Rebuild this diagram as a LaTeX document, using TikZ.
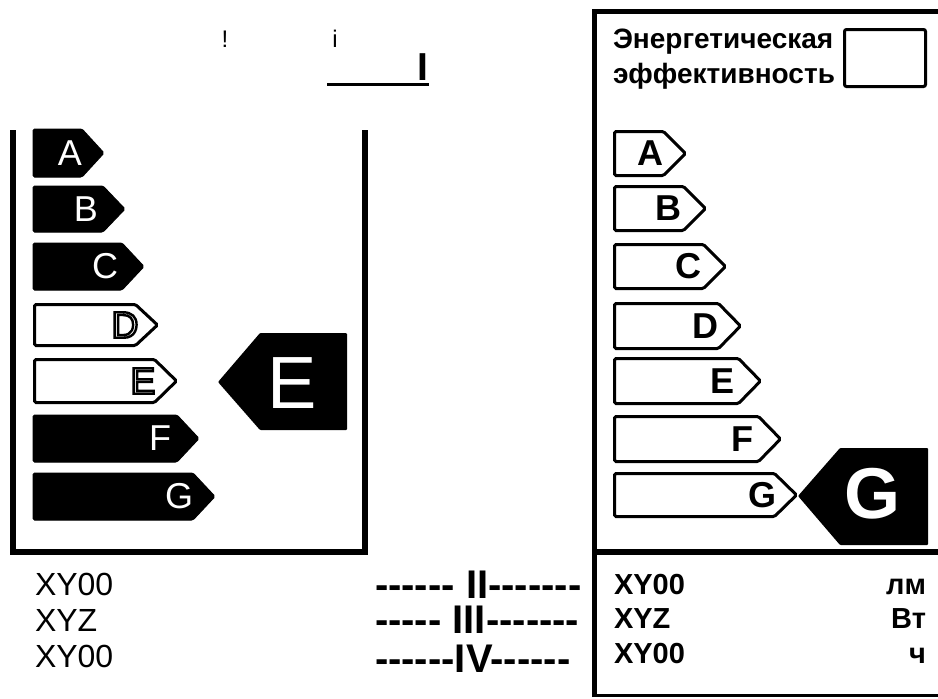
\documentclass[tikz,border=0pt]{standalone}
\usepackage{fontspec}
\setmainfont{Liberation Sans}
\tikzset{
  every node/.style={inner sep=0pt, outer sep=0pt},
  frameline/.style={line width=6pt, line join=miter},
  darkbar/.style={fill=black, draw=black, line width=1pt, rounded corners=1.5pt},
  lightbar/.style={fill=white, draw=black, line width=3pt, rounded corners=1.5pt},
  wlet/.style={text=white, font=\fontsize{36}{36}\selectfont},
  olet/.style={text=black, font=\fontsize{37}{37}\selectfont},
  blet/.style={text=black, font=\bfseries\fontsize{36}{36}\selectfont},
  lefttxt/.style={anchor=base west, font=\fontsize{32}{32}\selectfont},
  midtxt/.style={anchor=base west, font=\bfseries\fontsize{40}{40}\selectfont},
  righttxt/.style={anchor=base west, font=\bfseries\fontsize{29}{29}\selectfont},
  unittxt/.style={anchor=base east, font=\bfseries\fontsize{29}{29}\selectfont},
  titletxt/.style={anchor=base west, font=\bfseries\fontsize{28}{28}\selectfont},
}
\newcommand\tagbar[5]{\draw[#1] (#2,#3) -- ({#5-22},#3) -- (#5,{(#3+#4)/2}) -- ({#5-22},#4) -- (#2,#4) -- cycle;}
% outlined (stroked, unfilled) letter via PDF text rendering mode 1
\newcommand\outlinedletter[1]{\special{pdf:literal direct 1 Tr 2.4 w}#1\special{pdf:literal direct 0 Tr}}
\begin{document}
\begin{tikzpicture}[x=1pt,y=-1pt]
\useasboundingbox (0,0) rectangle (938,699);
\fill[white] (0,0) rectangle (938,699);

% ---------- top marks ----------
\node[anchor=base, font=\fontsize{24}{24}\selectfont] (excl) at (225,47) {!};
\node[anchor=base, font=\fontsize{24}{24}\selectfont] (ii) at (335,47) {i};
\node[anchor=base, font=\bfseries\fontsize{39}{39}\selectfont] (one) at (422.5,80) {I};
\coordinate (ul1) at (327,84.5);
\coordinate (ul2) at (429,84.5);
\draw[line width=3pt] (ul1) -- (ul2);

% ---------- left panel ----------
\draw[frameline] (12.5,130) -- (12.5,551.5) -- (365,551.5) -- (365,130);

\tagbar{darkbar}{33}{129}{177}{104}
\tagbar{darkbar}{33}{186}{232}{125}
\tagbar{darkbar}{33}{243}{290}{144}
\tagbar{lightbar}{34.5}{304.5}{345.5}{157.5}
\tagbar{lightbar}{34.5}{359.5}{402.5}{176.5}
\tagbar{darkbar}{33}{415}{462}{199}
\tagbar{darkbar}{33}{473}{520}{215}

\node[wlet] (la) at (70,153) {A};
\node[wlet] (lb) at (86,209) {B};
\node[wlet] (lc) at (105,266.5) {C};
\node[olet] (ld) at (125,325) {\outlinedletter{D}};
\node[olet] (le) at (143,381) {\outlinedletter{E}};
\node[wlet] (lf) at (160,438.5) {F};
\node[wlet] (lg) at (179,496.5) {G};

% big E arrow
\fill[black, rounded corners=1pt] (218,382) -- (260,333) -- (347,333) -- (347,430) -- (260,430) -- cycle;
\node[text=white, font=\fontsize{74}{74}\selectfont] (bigE) at (292,383.5) {E};

% ---------- bottom left texts ----------
\node[lefttxt] (l1) at (35,595) {XY00};
\node[lefttxt] (l2) at (35,631) {XYZ};
\node[lefttxt] (l3) at (35,667) {XY00};

% ---------- middle ----------
\node[midtxt] (m1) at (375,598) {-{}-{}-{}-{}-{}-\ II-{}-{}-{}-{}-{}-{}-};
\node[midtxt] (m2) at (375,633) {-{}-{}-{}-{}-\ III-{}-{}-{}-{}-{}-{}-};
\node[midtxt] (m3) at (375,672) {-{}-{}-{}-{}-{}-IV-{}-{}-{}-{}-{}-};

% ---------- right panel ----------
\draw[line width=5pt, line join=miter] (594.5,697) -- (594.5,11.5) -- (940,11.5);
\draw[line width=6pt] (592,551.5) -- (940,551.5);
\draw[line width=2.5pt] (594.5,695.5) -- (940,695.5);

\node[titletxt] (t1) at (613,48) {Энергетическая};
\node[titletxt] (t2) at (613,83) {эффективность};
\draw[line width=3pt, rounded corners=2pt] (844.5,29.5) rectangle (925.5,86.5);

\tagbar{lightbar}{614.5}{131.5}{175.5}{685.5}
\tagbar{lightbar}{614.5}{186.5}{230.5}{705.5}
\tagbar{lightbar}{614.5}{244.5}{288.5}{725.5}
\tagbar{lightbar}{614.5}{303.5}{348.5}{740.5}
\tagbar{lightbar}{614.5}{358.5}{403.5}{760.5}
\tagbar{lightbar}{614.5}{416.5}{461.5}{780.5}
\tagbar{lightbar}{614.5}{473.5}{516.5}{796.5}

\node[blet] (ra) at (650,153.5) {A};
\node[blet] (rb) at (668,208.5) {B};
\node[blet] (rc) at (688,266.5) {C};
\node[blet] (rd) at (705,326) {D};
\node[blet] (re) at (723,381) {E};
\node[blet] (rf) at (742,439) {F};
\node[blet] (rg) at (762,495) {G};

% big G arrow
\fill[black, rounded corners=1pt] (798,496) -- (840,448) -- (928,448) -- (928,545) -- (840,545) -- cycle;
\node[text=white, font=\bfseries\fontsize{72}{72}\selectfont] (bigG) at (872,494) {G};

% bottom right texts
\node[righttxt] (r1) at (614,594) {XY00};
\node[righttxt] (r2) at (614,628) {XYZ};
\node[righttxt] (r3) at (614,663) {XY00};
\node[unittxt] (u1) at (926,594) {лм};
\node[unittxt] (u2) at (926,628) {Вт};
\node[unittxt] (u3) at (926,663) {ч};
\end{tikzpicture}
\end{document}
